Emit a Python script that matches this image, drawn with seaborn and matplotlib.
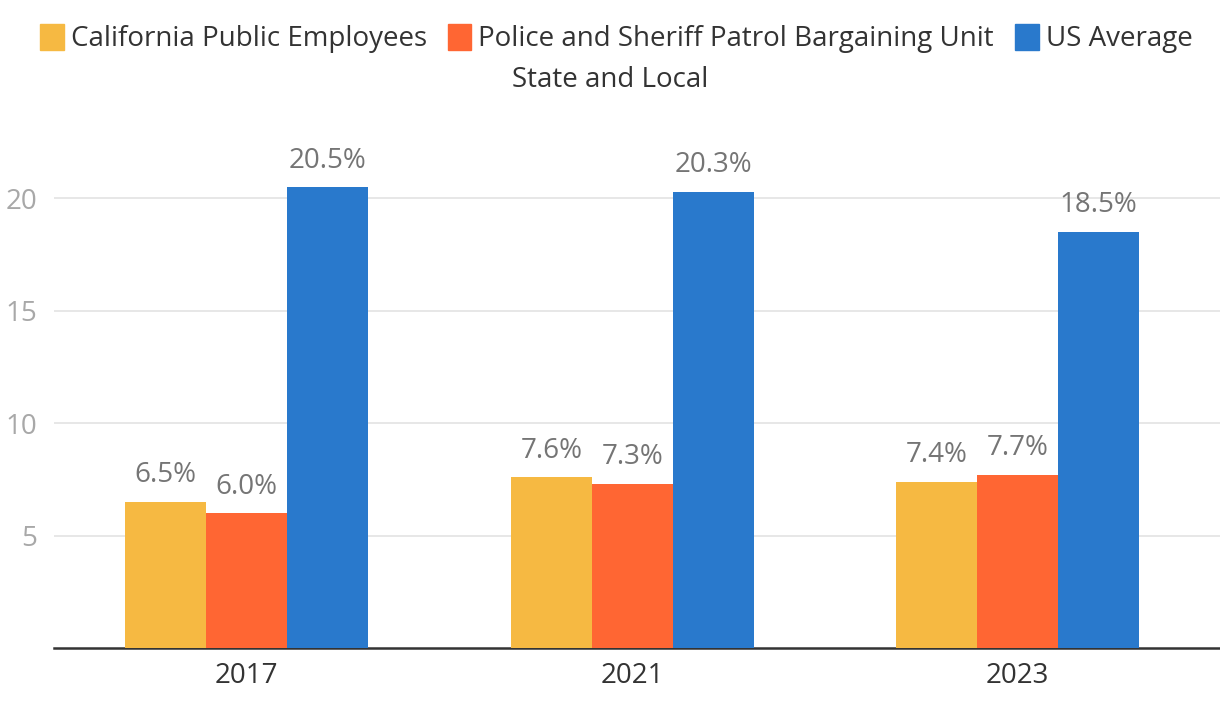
import matplotlib
matplotlib.use("Agg")
import matplotlib.pyplot as plt
import seaborn as sns
import pandas as pd

years = ["2017", "2021", "2023"]
series = ["California Public Employees", "Police and Sheriff Patrol Bargaining Unit", "US Average"]
ca_public = [6.5, 7.6, 7.4]
police_sheriff = [6.0, 7.3, 7.7]
us_average = [20.5, 20.3, 18.5]
colors = ["#F6B942", "#FF6633", "#2979CC"]

rows = []
for name, vals in zip(series, [ca_public, police_sheriff, us_average]):
    for y, v in zip(years, vals):
        rows.append({"year": y, "series": name, "value": v})
df = pd.DataFrame(rows)

sns.set_theme(style="white")
plt.rcParams["font.family"] = ["Open Sans", "DejaVu Sans"]

fig = plt.figure(figsize=(12.2, 7.16), dpi=100)
ax = fig.add_axes([0.0443, 0.095, 0.9557, 0.7066])

sns.barplot(data=df, x="year", y="value", hue="series", hue_order=series,
            palette=colors, width=0.63, gap=0, saturation=1, errorbar=None,
            ax=ax, legend=False, zorder=3, linewidth=0)

for cont in ax.containers:
    ax.bar_label(cont, labels=[f"{v:.1f}%" for v in cont.datavalues],
                 padding=9, fontsize=20, color="#757575")

ax.set_ylim(0, 22.5)
ax.set_xlim(-0.5, 2.525)
ax.set_yticks([5, 10, 15, 20])
ax.yaxis.grid(True, color="#e3e3e3", linewidth=1.2, zorder=0)
ax.set_axisbelow(True)
ax.tick_params(axis="y", labelsize=20, labelcolor="#a8a8a8", length=0, pad=12)
ax.tick_params(axis="x", labelsize=20, labelcolor="#333333", length=0, pad=10)
ax.set_xlabel("")
ax.set_ylabel("")
for s in ["top", "right", "left"]:
    ax.spines[s].set_visible(False)
ax.spines["bottom"].set_color("#333333")
ax.spines["bottom"].set_linewidth(1.8)

handles = [plt.Rectangle((0, 0), 1, 1, color=c) for c in colors]
fig.legend(handles, series, loc="upper center", bbox_to_anchor=(0.505, 1.002),
           ncol=3, frameon=False, fontsize=20, handlelength=0.86, handleheight=1.1,
           handletextpad=0.25, columnspacing=0.75, labelcolor="#333333")
fig.text(0.5, 0.888, "State and Local", ha="center", va="center",
         fontsize=20, color="#333333")

fig.savefig("out.png", dpi=100)
